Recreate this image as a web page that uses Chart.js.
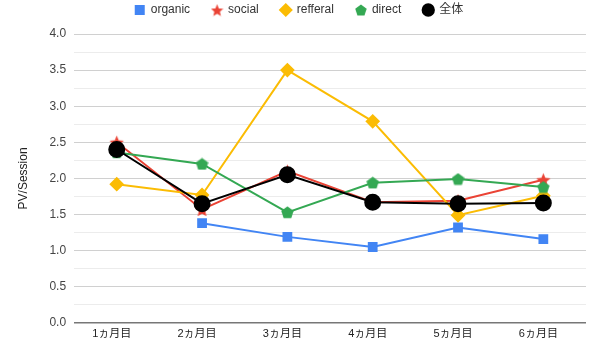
<!DOCTYPE html>
<html><head><meta charset="utf-8">
<script src="https://cdn.jsdelivr.net/npm/chart.js@4/dist/chart.umd.min.js"></script>
<style>html,body{margin:0;padding:0;background:#fff}#w{width:600px;height:355px}</style>
</head><body><div id="w"><canvas id="c"></canvas></div>
<script>
const categories = ['1ヵ月目','2ヵ月目','3ヵ月目','4ヵ月目','5ヵ月目','6ヵ月目'];
const organic  = [null, 1.38, 1.19, 1.05, 1.32, 1.16];
const social   = [2.50, 1.57, 2.10, 1.67, 1.69, 1.98];
const refferal = [1.92, 1.77, 3.50, 2.79, 1.49, 1.76];
const direct   = [2.36, 2.20, 1.53, 1.94, 1.99, 1.88];
const total    = [2.40, 1.65, 2.05, 1.67, 1.65, 1.66];
const seriesNames = ['organic','social','refferal','direct','全体'];
const yTicks = [0,0.5,1.0,1.5,2.0,2.5,3.0,3.5,4.0];

function polyCanvas(color, size, n, inner){
  const c=document.createElement('canvas');c.width=size;c.height=size;
  const g=c.getContext('2d');g.fillStyle=color;g.beginPath();
  const r=size/2, cx=size/2, cy=size/2+(inner?0.8:0.6);
  const pts = inner ? n*2 : n;
  for(let i=0;i<pts;i++){
    const a=-Math.PI/2+i*2*Math.PI/pts;
    const rr = inner ? (i%2? r*inner : r) : r;
    const x=cx+rr*Math.cos(a),y=cy+rr*Math.sin(a);i?g.lineTo(x,y):g.moveTo(x,y);
  }
  g.closePath();g.fill();return c;
}
const pent = polyCanvas('#34A853', 13, 5, 0);
const star = polyCanvas('#EA4335', 15, 5, 0.45);
const pentL = polyCanvas('#34A853', 12, 5, 0);
const starL = polyCanvas('#EA4335', 13, 5, 0.45);
const FONT = "Arial, 'Liberation Sans', 'Noto Sans CJK JP', sans-serif";
Chart.defaults.font.family = FONT;
Chart.defaults.font.size = 12;
Chart.defaults.color = '#444';

const legendGap = {id:'legendGap', beforeInit(chart){
  const fit = chart.legend.fit;
  chart.legend.fit = function(){ fit.bind(chart.legend)(); this.height += 8; };
}};

new Chart(document.getElementById('c'), {
  type:'line',
  plugins:[legendGap],
  data:{labels:categories, datasets:[
    {label:seriesNames[0], data:organic, borderColor:'#4285F4', backgroundColor:'#4285F4', pointStyle:'rect', pointRadius:5.5, borderWidth:2, order:4},
    {label:seriesNames[1], data:social, borderColor:'#EA4335', backgroundColor:'#EA4335', pointStyle:star, pointRadius:7, borderWidth:2, order:3},
    {label:seriesNames[2], data:refferal, borderColor:'#FBBC04', backgroundColor:'#FBBC04', pointStyle:'rectRot', pointRadius:6, borderWidth:2, order:2},
    {label:seriesNames[3], data:direct, borderColor:'#34A853', backgroundColor:'#34A853', pointStyle:pent, pointRadius:6, borderWidth:2, order:1},
    {label:seriesNames[4], data:total, borderColor:'#000000', backgroundColor:'#000000', pointStyle:'circle', pointRadius:7.5, borderWidth:2, order:0}
  ]},
  options:{
    responsive:true, maintainAspectRatio:false, animation:false,
    layout:{padding:{left:12,right:14,top:-18,bottom:17}},
    plugins:{
      legend:{position:'top', labels:{usePointStyle:true, boxWidth:10, boxHeight:8, padding:22, color:'#333', font:{size:12},
        sort:(a,b)=>a.datasetIndex-b.datasetIndex,
        generateLabels:(chart)=>{
          const items = Chart.defaults.plugins.legend.labels.generateLabels(chart);
          items.forEach(it=>{ if(it.datasetIndex===1) it.pointStyle=starL; if(it.datasetIndex===3) it.pointStyle=pentL; });
          return items;
        }}},
      tooltip:{enabled:false}
    },
    scales:{
      x:{offset:true, grid:{display:false}, border:{display:false}, ticks:{color:'#222', font:{size:11}, labelOffset:-5, padding:-3}},
      y:{min:0, max:4, border:{display:false},
         afterBuildTicks:(ax)=>{const t=[];for(let v=0;v<=4.0001;v+=0.25)t.push({value:Math.round(v*100)/100});ax.ticks=t;},
         ticks:{color:'#444', padding:8, callback:(v)=> yTicks.includes(v)? v.toFixed(1):''},
         grid:{drawTicks:false, lineWidth:(ctx)=>ctx.tick&&ctx.tick.value===0?1.5:1,
           color:(ctx)=>{const v=ctx.tick?ctx.tick.value:0; if(v===0)return '#777'; return yTicks.includes(v)?'#d0d0d0':'#ececec';}},
         title:{display:true, text:'PV/Session', color:'#222', font:{size:12}, padding:{bottom:11}}
      }
    }
  }
});
</script></body></html>
